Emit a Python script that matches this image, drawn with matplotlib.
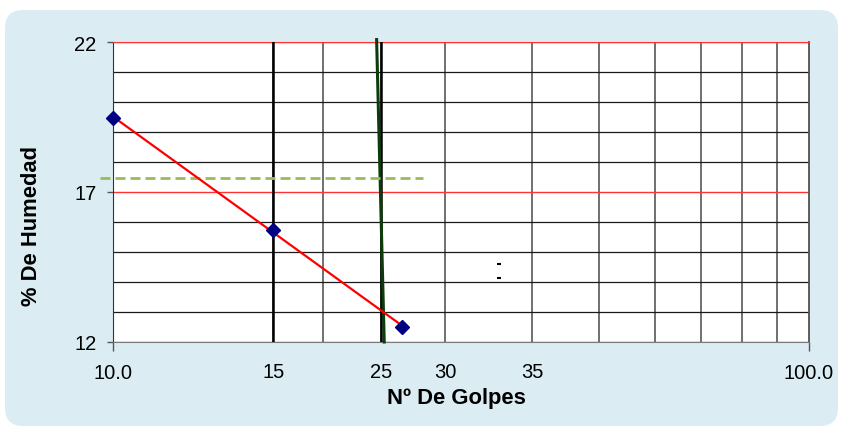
import numpy as np
import matplotlib
matplotlib.use("Agg")
import matplotlib.pyplot as plt
from matplotlib.patches import FancyBboxPatch

plt.rcParams['font.family'] = ['Liberation Sans', 'DejaVu Sans']

# data
golpes = [10, 17, 26]
humedad = [19.47, 15.74, 12.5]

# vertical guide lines (black) and the tilted green line
guia_x = [17, 24.27]
verde_x = [23.92, 24.53]
verde_y = [22.08, 12.0]

# dashed horizontal line
disc_x = [9.58, 27.9]
disc_y = [17.47, 17.47]

# two small marks in the middle of the grid
marcas_x = [35.9, 35.9]
marcas_y = [14.59, 14.14]

# x labels written under the axis
lab_pos = [17, 20, 24.27, 30, 40, 50, 60, 70, 80, 90]
lab_txt = ['15', '', '25', '30', '35', '', '', '', '', '']

fig = plt.figure(figsize=(8.41, 4.27), dpi=100)
fig.patch.set_facecolor('white')

# rounded light blue background
bg = FancyBboxPatch((5, 0), 833, 416,
                    boxstyle="round,pad=0,rounding_size=18",
                    transform=None, facecolor='#dbedf3',
                    edgecolor='none', zorder=-10)
fig.patches.append(bg)

ax = fig.add_axes([113/841, 1-343/427, 696/841, 300/427])
ax.set_zorder(5)
ax.set_facecolor('white')
ax.set_xscale('log')
ax.set_xlim(10, 100)
ax.set_ylim(12, 22)

# x ticks
ax.set_xticks([10, 100])
ax.set_xticklabels(['10.0', '100.0'])
ax.set_xticks(lab_pos, minor=True)
ax.set_xticklabels(lab_txt, minor=True)
ax.tick_params(axis='x', which='major', length=6.5, width=1, color='#555555',
               labelsize=14.5, pad=8.3)
ax.tick_params(axis='x', which='minor', length=0, labelsize=14.5, pad=14.5)

# y ticks
ax.set_yticks([12, 17, 22])
ax.set_yticklabels(['12', '17', '22'])
ax.set_yticks(np.arange(12, 23, 1), minor=True)
ax.tick_params(axis='y', which='major', length=4.5, width=1, color='#555555',
               labelsize=14.5, pad=7.5)
ax.tick_params(axis='y', which='minor', length=0)

# grid
ax.grid(True, which='minor', axis='x', color='#707070', lw=1.4, zorder=1)
ax.grid(True, which='minor', axis='y', color='#1a1a1a', lw=0.9, zorder=1)
ax.grid(True, which='major', axis='y', color='#ff3333', lw=1.0, zorder=1)
ax.grid(False, which='major', axis='x')
ax.set_axisbelow(True)

ax.spines['top'].set_color('#ff3333')
ax.spines['right'].set_color('#505050')
ax.spines['right'].set_linewidth(1.3)
ax.spines['left'].set_color('#333333')
ax.spines['bottom'].set_color('#7a7a7a')

# black vertical lines
for gx in guia_x:
    ax.plot([gx, gx], [12, 22], color='black', lw=1.8, zorder=3)

# green nearly vertical line
ax.plot(verde_x, verde_y, color='#0b3d0b', lw=2.2, zorder=4, clip_on=False)

# dashed line
ld, = ax.plot(disc_x, disc_y, color='#9bbb59', lw=2, zorder=4, clip_on=False)
ld.set_dashes((3.6, 1.8))

# trend line (log fit)
c = np.polyfit(np.log10(golpes), humedad, 1)
xt = np.array([min(golpes), max(golpes)])
ax.plot(xt, c[0]*np.log10(xt) + c[1], color='#ff0000', lw=1.6, zorder=5)

# points
ax.plot(golpes, humedad, linestyle='none', marker='D', markersize=7,
        color='#000080', zorder=6, clip_on=False)

ax.plot(marcas_x, marcas_y, linestyle='none', marker='_', markersize=3,
        color='black', mew=1.5, zorder=6)

ax.set_xlabel('Nº De Golpes', fontsize=15.8, fontweight='bold')
ax.xaxis.set_label_coords((456.7-113)/696, -(398.8-343)/300)
ax.xaxis.label.set_va('center')
ax.set_ylabel('% De Humedad', fontsize=15.8, fontweight='bold')
ax.yaxis.set_label_coords((32-113)/696, (343-225.7)/300)
ax.yaxis.label.set_va('center')

fig.savefig('out.png', dpi=100, facecolor='white')
